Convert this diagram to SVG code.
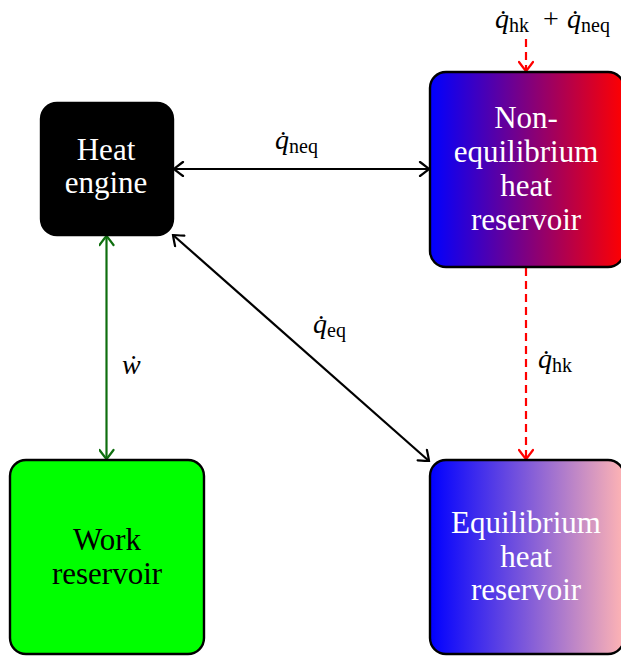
<svg xmlns="http://www.w3.org/2000/svg" width="621" height="657" viewBox="0 0 621 657">
<style>
.box{stroke:#000;stroke-width:2.4}
.lbl{font-family:"Liberation Serif","Times New Roman",serif;font-size:31px;text-anchor:middle}
.w{fill:#fff}
.k{fill:#000}
.m{font-family:"Liberation Serif","Times New Roman",serif;font-size:28px;fill:#000}
.it{font-style:italic}
.sub{font-size:20px}
.conn{fill:none;stroke-width:2.2}
</style>
<defs>
<linearGradient id="gNeq" x1="0" y1="0" x2="1" y2="0">
<stop offset="0" stop-color="#0000ff"/>
<stop offset="1" stop-color="#ff0000"/>
</linearGradient>
<linearGradient id="gEq" x1="0" y1="0" x2="1" y2="0">
<stop offset="0" stop-color="#0000ff"/>
<stop offset="1" stop-color="#ffb4b4"/>
</linearGradient>
<marker id="aK" viewBox="-11 -8 13 16" markerWidth="13" markerHeight="16" refX="0" refY="0" orient="auto-start-reverse" markerUnits="userSpaceOnUse">
<path d="M-9,-7 Q-2,-1.8 0,0 Q-2,1.8 -9,7" fill="none" stroke="#000" stroke-width="2.2" stroke-linecap="round"/>
</marker>
<marker id="aG" viewBox="-11 -8 13 16" markerWidth="13" markerHeight="16" refX="0" refY="0" orient="auto-start-reverse" markerUnits="userSpaceOnUse">
<path d="M-9,-7 Q-2,-1.8 0,0 Q-2,1.8 -9,7" fill="none" stroke="#0e6e0e" stroke-width="2.2" stroke-linecap="round"/>
</marker>
<marker id="aR" viewBox="-11 -8 13 16" markerWidth="13" markerHeight="16" refX="0" refY="0" orient="auto" markerUnits="userSpaceOnUse">
<path d="M-9,-7 Q-2,-1.8 0,0 Q-2,1.8 -9,7" fill="none" stroke="#ff0000" stroke-width="2.2" stroke-linecap="round"/>
</marker>
</defs>
<rect width="621" height="657" fill="#fff"/>

<g id="connectors">
<line class="conn" x1="174" y1="169" x2="429" y2="169" stroke="#000" marker-start="url(#aK)" marker-end="url(#aK)"/>
<line class="conn" x1="173" y1="235" x2="429" y2="461" stroke="#000" marker-start="url(#aK)" marker-end="url(#aK)"/>
<line class="conn" x1="106.5" y1="236" x2="106.5" y2="459" stroke="#0e6e0e" marker-start="url(#aG)" marker-end="url(#aG)"/>
<line class="conn" x1="526" y1="39" x2="526" y2="71" stroke="#ff0000" stroke-dasharray="8,5" marker-end="url(#aR)"/>
<line class="conn" x1="526" y1="268" x2="526" y2="459" stroke="#ff0000" stroke-dasharray="8,5" marker-end="url(#aR)"/>
<text class="m" x="275" y="149"><tspan class="it">q&#x307;</tspan><tspan class="sub" dy="4">neq</tspan></text>
<text class="m" x="313" y="333"><tspan class="it">q&#x307;</tspan><tspan class="sub" dy="4">eq</tspan></text>
<text class="m" x="122" y="374"><tspan class="it">w&#x307;</tspan></text>
<text class="m" x="538" y="368"><tspan class="it">q&#x307;</tspan><tspan class="sub" dy="4">hk</tspan></text>
<text class="m" x="495" y="28"><tspan class="it">q&#x307;</tspan><tspan class="sub" dy="4">hk</tspan><tspan x="543" dy="-4">+</tspan><tspan class="it" x="567">q&#x307;</tspan><tspan class="sub" dy="4">neq</tspan></text>
</g>

<g id="heat-engine">
<rect class="box" x="41" y="103" width="132" height="132" rx="16" fill="#000"/>
<text class="lbl w" x="106" y="160">Heat</text>
<text class="lbl w" x="106" y="193">engine</text>
</g>

<g id="noneq-reservoir">
<rect class="box" x="430" y="72" width="194" height="195" rx="16" fill="url(#gNeq)"/>
<text class="lbl w" x="526" y="128">Non-</text>
<text class="lbl w" x="526" y="162">equilibrium</text>
<text class="lbl w" x="526" y="196">heat</text>
<text class="lbl w" x="526" y="230">reservoir</text>
</g>

<g id="work-reservoir">
<rect class="box" x="10" y="460" width="194" height="194" rx="16" fill="#00ff00"/>
<text class="lbl k" x="107" y="550">Work</text>
<text class="lbl k" x="107" y="584">reservoir</text>
</g>

<g id="eq-reservoir">
<rect class="box" x="430" y="460" width="194" height="194" rx="16" fill="url(#gEq)"/>
<text class="lbl w" x="526" y="533">Equilibrium</text>
<text class="lbl w" x="526" y="567">heat</text>
<text class="lbl w" x="526" y="600">reservoir</text>
</g>
</svg>
